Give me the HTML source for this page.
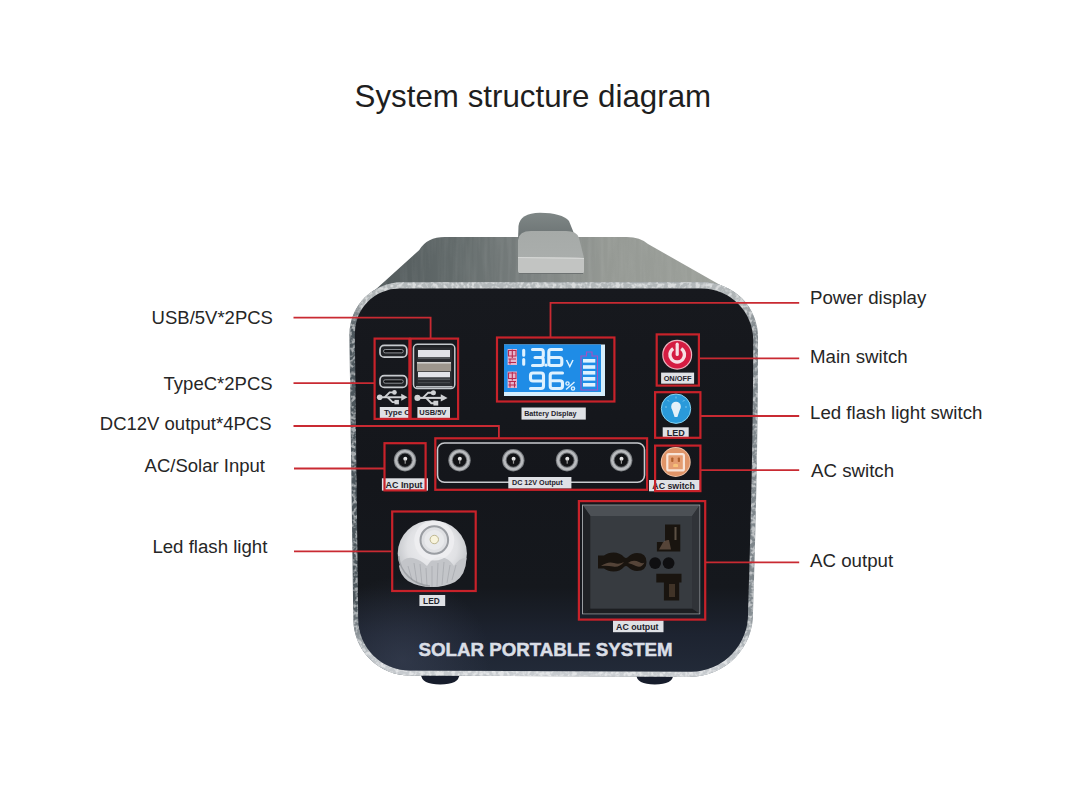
<!DOCTYPE html>
<html><head><meta charset="utf-8">
<style>
html,body{margin:0;padding:0;background:#fff;width:1080px;height:810px;overflow:hidden}
svg{display:block}
.lbl{font-family:"Liberation Sans",sans-serif;font-size:18.5px;fill:#262626}
.tag{font-family:"Liberation Sans",sans-serif;font-weight:bold;fill:#1f232b}
</style></head><body>
<svg width="1080" height="810" viewBox="0 0 1080 810">
<defs>
  <linearGradient id="topg" x1="0" y1="0" x2="1" y2="0">
    <stop offset="0" stop-color="#4f5759"/>
    <stop offset="0.25" stop-color="#636b6b"/>
    <stop offset="0.45" stop-color="#7b8180"/>
    <stop offset="0.65" stop-color="#959994"/>
    <stop offset="1" stop-color="#9da19b"/>
  </linearGradient>
  <linearGradient id="face" x1="0" y1="0" x2="0" y2="1">
    <stop offset="0" stop-color="#17191e"/>
    <stop offset="0.5" stop-color="#14161b"/>
    <stop offset="0.78" stop-color="#15181d"/>
    <stop offset="0.9" stop-color="#1d2330"/>
    <stop offset="1" stop-color="#222a38"/>
  </linearGradient>
  <radialGradient id="faceglow" cx="0.12" cy="0.97" r="0.22">
    <stop offset="0" stop-color="#3c4458" stop-opacity="0.55"/>
    <stop offset="1" stop-color="#3c4458" stop-opacity="0"/>
  </radialGradient>
  <linearGradient id="rimg" x1="0" y1="0" x2="1" y2="0">
    <stop offset="0" stop-color="#4c565c"/>
    <stop offset="0.5" stop-color="#6a7278"/>
    <stop offset="1" stop-color="#7f878c"/>
  </linearGradient>
  <linearGradient id="rimv" x1="0" y1="0" x2="0" y2="1">
    <stop offset="0" stop-color="#b4b9bb" stop-opacity="1"/>
    <stop offset="0.045" stop-color="#aeb3b5" stop-opacity="1"/>
    <stop offset="0.12" stop-color="#aeb3b5" stop-opacity="0"/>
    <stop offset="0.82" stop-color="#c0c5c9" stop-opacity="0"/>
    <stop offset="0.95" stop-color="#c0c5c9" stop-opacity="1"/>
    <stop offset="1" stop-color="#c8ccd0" stop-opacity="1"/>
  </linearGradient>
  <radialGradient id="ledg" cx="0.5" cy="0.4" r="0.6">
    <stop offset="0" stop-color="#f2f2f4"/>
    <stop offset="0.6" stop-color="#e0e1e4"/>
    <stop offset="1" stop-color="#b9bcc0"/>
  </radialGradient>
  <linearGradient id="handf" x1="0" y1="0" x2="0" y2="1">
    <stop offset="0" stop-color="#a6aaa8"/>
    <stop offset="1" stop-color="#acb0ae"/>
  </linearGradient>
  <linearGradient id="handt" x1="0" y1="0" x2="0" y2="1">
    <stop offset="0" stop-color="#7f8786"/>
    <stop offset="1" stop-color="#6a7172"/>
  </linearGradient>
  <filter id="brush" x="0" y="0" width="100%" height="100%">
    <feTurbulence type="fractalNoise" baseFrequency="0.25 0.02" numOctaves="2" seed="3" result="n"/>
    <feColorMatrix in="n" type="matrix" values="0 0 0 0 1  0 0 0 0 1  0 0 0 0 1  0 0 0 -1.6 1.05" result="a"/>
    <feComposite in="a" in2="SourceGraphic" operator="in"/>
  </filter>
  <filter id="speck" x="0" y="0" width="100%" height="100%">
    <feTurbulence type="fractalNoise" baseFrequency="0.25" numOctaves="2" seed="7" result="n"/>
    <feColorMatrix in="n" type="matrix" values="0 0 0 0 1  0 0 0 0 1  0 0 0 0 1  0 0 0 -4 2.3" result="a"/>
    <feComposite in="a" in2="SourceGraphic" operator="in"/>
  </filter>
</defs>
<rect width="1080" height="810" fill="#fff"/>
<text x="354.6" y="107.4" font-family="Liberation Sans" font-size="31.3" fill="#1e1e1e">System structure diagram</text>

<g id="device">
  <path d="M420.8,668 L459.7,668 L459.7,674 Q459,684.5 440.2,684.5 Q421.5,684.5 420.8,674 Z" fill="#171d2c"/>
  <path d="M636,668 L673.6,668 L673.6,674 Q673,684.5 654.8,684.5 Q636.6,684.5 636,674 Z" fill="#171d2c"/>
  <path d="M364,300 L419.3,250 Q427,237 445,237 L627,237 Q640,237 648,244 L736,294 L736,300 Z" fill="url(#topg)"/>
  <path d="M364,300 L419.3,250 Q427,237 445,237 L627,237 Q640,237 648,244 L736,294 L736,300 Z" fill="#000" filter="url(#brush)" opacity="0.08"/>
  <path d="M518,240 L518.5,226 Q520,213 540,212.8 Q562,213 569,221 L575,236 L575,240 Z" fill="url(#handt)"/>
  <path d="M518,240 Q519,231 531,231 L566,231 Q577,231 579,238 L584,258 L584,271 Q584,274 580,274 L522,274 Q518,274 518,270 Z" fill="url(#handf)"/>
  <path d="M518,257 Q540,257 550,257 Q574,257 584,258 L584,271 Q584,274 580,274 L522,274 Q518,274 518,270 Z" fill="#c2c4c2"/>
  <path d="M518,257.5 L584,258.5" stroke="#d6d8d6" stroke-width="1.2"/>
  <path d="M519,273.5 L583,273.5" stroke="#6d7272" stroke-width="1"/>
  <path d="M401.8,282.2 L703,282.2 A55,55 0 0 1 758,337.2 Q758.2,450 753,612 A63,63 0 0 1 690,676.7 L409.7,675.5 A56.4,56.4 0 0 1 353.3,619.1 L349.4,334.6 A52.4,52.4 0 0 1 401.8,282.2 Z" fill="url(#rimg)"/>
  <path d="M401.8,282.2 L703,282.2 A55,55 0 0 1 758,337.2 Q758.2,450 753,612 A63,63 0 0 1 690,676.7 L409.7,675.5 A56.4,56.4 0 0 1 353.3,619.1 L349.4,334.6 A52.4,52.4 0 0 1 401.8,282.2 Z" fill="url(#rimv)"/>
  <path d="M401.8,282.2 L703,282.2 A55,55 0 0 1 758,337.2 Q758.2,450 753,612 A63,63 0 0 1 690,676.7 L409.7,675.5 A56.4,56.4 0 0 1 353.3,619.1 L349.4,334.6 A52.4,52.4 0 0 1 401.8,282.2 Z" fill="#000" filter="url(#speck)" opacity="0.5"/>
  <path d="M399.3,288.6 L701.6,288.6 A51.6,51.6 0 0 1 753.2,340.2 Q753.2,450 748,612 A57.5,57.5 0 0 1 691,671.7 L409.7,670.5 A51.5,51.5 0 0 1 358.2,619.1 L354.8,333.1 A44.5,44.5 0 0 1 399.3,288.6 Z" fill="url(#face)"/>
  <path d="M399.3,288.6 L701.6,288.6 A51.6,51.6 0 0 1 753.2,340.2 Q753.2,450 748,612 A57.5,57.5 0 0 1 691,671.7 L409.7,670.5 A51.5,51.5 0 0 1 358.2,619.1 L354.8,333.1 A44.5,44.5 0 0 1 399.3,288.6 Z" fill="url(#faceglow)"/>
</g>

<g id="typec">
  <rect x="380" y="345.3" width="26.8" height="11.8" rx="4.2" fill="#202226" stroke="#c8cbcf" stroke-width="1.7"/>
  <rect x="383.5" y="349.5" width="19.8" height="3.4" rx="1.7" fill="#101114" stroke="#9a9da2" stroke-width="0.9"/>
  <rect x="380" y="375.6" width="26.8" height="11.8" rx="4.2" fill="#202226" stroke="#c8cbcf" stroke-width="1.7"/>
  <rect x="383.5" y="379.8" width="19.8" height="3.4" rx="1.7" fill="#101114" stroke="#9a9da2" stroke-width="0.9"/>
</g>
<g id="usba">
  <rect x="413.5" y="344.3" width="41.3" height="44.3" rx="4" fill="#1f2125" stroke="#c4c8cc" stroke-width="1.5"/>
  <rect x="416.5" y="347.5" width="35.5" height="38.5" fill="#2a2c30"/>
  <rect x="418" y="350" width="32" height="7" fill="#e2e3e8"/>
  <rect x="418" y="357" width="32" height="2" fill="#55585c"/>
  <rect x="417" y="362.5" width="34" height="8.8" fill="#9d968d"/>
  <rect x="417" y="362.2" width="34" height="1.2" fill="#e6e6e6"/>
  <rect x="418" y="372" width="32" height="5.3" fill="#e2e3e8"/>
  <rect x="418" y="378.5" width="32" height="1.4" fill="#55585c"/>
  <rect x="418" y="382" width="32" height="1.2" fill="#44474b"/>
  <rect x="416" y="386" width="36.5" height="1.6" fill="#b8bcc0"/>
</g>

<g transform="translate(377,389.5) scale(0.97)" fill="#cfd1d4" stroke="#cfd1d4">
  <circle cx="2.8" cy="8" r="2.9" stroke="none"/>
  <line x1="3" y1="8" x2="27" y2="8" stroke-width="2"/>
  <path d="M25,4.5 L31.5,8 L25,11.5 Z" stroke="none"/>
  <polyline points="8,8 13,3 17,3" fill="none" stroke-width="1.9"/>
  <circle cx="18" cy="3" r="2.4" stroke="none"/>
  <polyline points="11,8 16,13 19,13" fill="none" stroke-width="1.9"/>
  <rect x="18" y="10.7" width="4.6" height="4.6" stroke="none"/>
</g>
<g transform="translate(414.5,389.5) scale(1.05)" fill="#cfd1d4" stroke="#cfd1d4">
  <circle cx="2.8" cy="8" r="2.9" stroke="none"/>
  <line x1="3" y1="8" x2="27" y2="8" stroke-width="2"/>
  <path d="M25,4.5 L31.5,8 L25,11.5 Z" stroke="none"/>
  <polyline points="8,8 13,3 17,3" fill="none" stroke-width="1.9"/>
  <circle cx="18" cy="3" r="2.4" stroke="none"/>
  <polyline points="11,8 16,13 19,13" fill="none" stroke-width="1.9"/>
  <rect x="18" y="10.7" width="4.6" height="4.6" stroke="none"/>
</g>
<g id="lcd">
  <rect x="504" y="344.5" width="101" height="51.5" fill="#d6eefc"/>
  <rect x="504" y="344.5" width="97" height="47.5" fill="#1f8ce6"/>
  <g fill="#e6b4cc">
    <rect x="507.6" y="349" width="9.4" height="16"/>
    <rect x="507.6" y="371.5" width="9.4" height="16.5"/>
  </g>
  <g stroke="#b8284e" stroke-width="1.1" fill="none">
    <path d="M508.5,350.5 H516 V356 H508.5 Z M512.3,349.5 V358 M508.5,359 H516 M508.5,362.5 H516 M510,359 V364.5"/>
    <path d="M508.5,373 H516 V378.5 H508.5 Z M512.3,372 V380.5 M508.5,381.5 H516 M508.5,385 H516 M510,381.5 V387.5 M514.5,381.5 V387.5"/>
  </g>
  <g fill="none" stroke="#dff2ff" stroke-width="3.1" stroke-linecap="round" stroke-linejoin="round">
    <path d="M523.7,350.3 V355.2 M523.7,359.5 V364.3"/>
    <path d="M532.5,349.5 H541 Q543.3,349.5 543.3,352 V355.5 Q543.3,357.5 541,357.5 H535 M541,357.5 Q543.3,357.5 543.3,360 V363 Q543.3,365.5 541,365.5 H532.5"/>
    <path d="M561.5,349.5 H551 Q548.8,349.5 548.8,352 V363 Q548.8,365.5 551,365.5 H559.5 Q561.8,365.5 561.8,363 V360 Q561.8,357.5 559.5,357.5 H550"/>
    <path d="M530.5,388.5 H541 Q543.5,388.5 543.5,386 V375.5 Q543.5,373 541,373 H533 Q530.5,373 530.5,375.5 V378.5 Q530.5,381 533,381 H543"/>
    <path d="M562.5,373 H552.5 Q550.2,373 550.2,375.5 V386 Q550.2,388.5 552.5,388.5 H560 Q562.5,388.5 562.5,386 V383 Q562.5,380.8 560,380.8 H551"/>
  </g>
  <circle cx="546" cy="365.2" r="1.6" fill="#dff2ff"/>
  <path d="M566.5,360 L569.8,366.5 L573,360" fill="none" stroke="#dff2ff" stroke-width="1.5"/>
  <g fill="none" stroke="#dff2ff" stroke-width="1.4">
    <circle cx="567.5" cy="383.5" r="1.6"/><circle cx="573" cy="388.5" r="1.6"/>
    <line x1="566" y1="389.5" x2="574.5" y2="382"/>
  </g>
  <path d="M581,356 H586.5 V352 H592 V356 H597.5 V390 H581 Z" fill="none" stroke="#a850c0" stroke-width="1.1"/>
  <g fill="#dff2ff">
    <rect x="583" y="359" width="12.3" height="3.6"/>
    <rect x="583" y="365.2" width="12.3" height="3.6"/>
    <rect x="583" y="371" width="12.3" height="3.6"/>
    <rect x="583" y="377" width="12.3" height="3.6"/>
    <rect x="583" y="383" width="12.3" height="3.6"/>
  </g>
</g>

<g id="buttons">
  <circle cx="677.2" cy="354.7" r="15" fill="#eeb4c0"/>
  <circle cx="677.2" cy="354.7" r="13.8" fill="#d51c42"/>
  <path d="M673.2,348.6 A7.3,7.3 0 1 0 681.2,348.6" fill="none" stroke="#f6dfe5" stroke-width="3.4"/>
  <line x1="677.2" y1="344.2" x2="677.2" y2="354.5" stroke="#f6dfe5" stroke-width="3.2" stroke-linecap="round"/>
  <circle cx="676" cy="408.7" r="14.7" fill="#2a9ada" stroke="#86d4f2" stroke-width="1"/>
  <circle cx="676" cy="406.5" r="4.8" fill="#e4f0f8"/>
  <path d="M671.4,407.5 L674.6,417 L677.4,417 L680.6,407.5 Z" fill="#e4f0f8"/>
  <g stroke="#8fd0f0" stroke-width="0.8">
    <line x1="676" y1="396.5" x2="676" y2="398.5"/><line x1="667.5" y1="400" x2="669" y2="401.5"/>
    <line x1="684.5" y1="400" x2="683" y2="401.5"/><line x1="665" y1="407" x2="667" y2="407"/><line x1="685" y1="407" x2="687" y2="407"/>
  </g>
  <circle cx="675.7" cy="462" r="15" fill="#f0c4a8"/>
  <circle cx="675.7" cy="462" r="14" fill="#df9468"/>
  <rect x="667.3" y="454.2" width="16.6" height="16.2" rx="1.5" fill="#e49c70" stroke="#f7e4d8" stroke-width="2.2"/>
  <g fill="#b0602e"><rect x="671.2" y="457.5" width="2.2" height="4.5" rx="0.8"/><rect x="677.8" y="457.5" width="2.2" height="4.5" rx="0.8"/></g>
  <path d="M673.2,464.5 Q675.6,462.8 678,464.5 L678,467 L673.2,467 Z" fill="#f7c27a"/>
</g>
</g>

<rect x="437.5" y="443" width="207" height="39.3" rx="7" fill="none" stroke="#c8cace" stroke-width="1.6"/>
<circle cx="405" cy="460.2" r="11.2" fill="#7d8084"/>
<circle cx="405" cy="460.2" r="10.2" fill="#b9bbbe"/>
<circle cx="405" cy="460.2" r="7.6" fill="#6a6d71"/>
<circle cx="405" cy="460.2" r="6.6" fill="#121316"/>
<circle cx="405.3" cy="458.7" r="2" fill="#e6e6e6"/>
<rect x="404.6" y="459.7" width="1.2" height="4" fill="#9a9a9a"/>
<circle cx="459.5" cy="460.2" r="11.2" fill="#7d8084"/>
<circle cx="459.5" cy="460.2" r="10.2" fill="#b9bbbe"/>
<circle cx="459.5" cy="460.2" r="7.6" fill="#6a6d71"/>
<circle cx="459.5" cy="460.2" r="6.6" fill="#121316"/>
<circle cx="459.8" cy="458.7" r="2" fill="#e6e6e6"/>
<rect x="459.1" y="459.7" width="1.2" height="4" fill="#9a9a9a"/>
<circle cx="513.3" cy="460.2" r="11.2" fill="#7d8084"/>
<circle cx="513.3" cy="460.2" r="10.2" fill="#b9bbbe"/>
<circle cx="513.3" cy="460.2" r="7.6" fill="#6a6d71"/>
<circle cx="513.3" cy="460.2" r="6.6" fill="#121316"/>
<circle cx="513.5999999999999" cy="458.7" r="2" fill="#e6e6e6"/>
<rect x="512.9" y="459.7" width="1.2" height="4" fill="#9a9a9a"/>
<circle cx="567" cy="460.2" r="11.2" fill="#7d8084"/>
<circle cx="567" cy="460.2" r="10.2" fill="#b9bbbe"/>
<circle cx="567" cy="460.2" r="7.6" fill="#6a6d71"/>
<circle cx="567" cy="460.2" r="6.6" fill="#121316"/>
<circle cx="567.3" cy="458.7" r="2" fill="#e6e6e6"/>
<rect x="566.6" y="459.7" width="1.2" height="4" fill="#9a9a9a"/>
<circle cx="621.2" cy="460.2" r="11.2" fill="#7d8084"/>
<circle cx="621.2" cy="460.2" r="10.2" fill="#b9bbbe"/>
<circle cx="621.2" cy="460.2" r="7.6" fill="#6a6d71"/>
<circle cx="621.2" cy="460.2" r="6.6" fill="#121316"/>
<circle cx="621.5" cy="458.7" r="2" fill="#e6e6e6"/>
<rect x="620.8000000000001" y="459.7" width="1.2" height="4" fill="#9a9a9a"/>
<g id="ledlight">
  <ellipse cx="432.3" cy="553.6" rx="34.6" ry="33.3" fill="url(#ledg)"/>
  <path d="M399,566 Q404,556 413,558 Q421,560 427,566 Q433,556 441,557 Q449,558 454,566 Q460,557 466.5,558 Q466,575 455,582 Q445,587 432,587 Q418,587 408,581 Q400,575 399,566 Z" fill="#c3c5c9"/>
  <g stroke="#a4a7ac" stroke-width="0.8" opacity="0.9">
    <line x1="408" y1="566" x2="412" y2="580"/><line x1="414" y1="563" x2="417" y2="583"/><line x1="420" y1="564" x2="422" y2="585"/><line x1="426" y1="568" x2="427" y2="586"/>
    <line x1="432" y1="566" x2="432" y2="587"/><line x1="438" y1="563" x2="437" y2="586"/><line x1="444" y1="562" x2="442" y2="585"/><line x1="450" y1="565" x2="447" y2="583"/><line x1="456" y1="565" x2="452" y2="580"/>
  </g>
  <path d="M398.6,556 A33.8,32.5 0 0 0 430,586" fill="none" stroke="#8a8d92" stroke-width="1.6" opacity="0.6"/>
  <circle cx="434.3" cy="540.5" r="20" fill="#eeeff1" opacity="0.85"/>
  <circle cx="434.3" cy="540" r="13.8" fill="#dfe0e3" stroke="#9a9da2" stroke-width="2"/>
  <circle cx="434.3" cy="540" r="10" fill="#e9eaec"/>
  <circle cx="434.3" cy="539.5" r="4.2" fill="#f8f4dc" stroke="#bdb690" stroke-width="1"/>
</g>

<g id="outlet">
  <rect x="582.6" y="505.2" width="117" height="108.5" fill="#2e3135" stroke="#9a9ea2" stroke-width="1.2"/>
  <path d="M583,505.5 L699.5,505.5 L692.2,516 L590.4,516 Z" fill="#4c5055"/>
  <path d="M583,613.5 L699.5,613.5 L692.2,608.5 L590.4,608.5 Z" fill="#1c1e21"/>
  <path d="M583,505.5 L590.4,516 L590.4,608.5 L583,613.5 Z" fill="#1f2125"/>
  <path d="M699.5,505.5 L692.2,516 L692.2,608.5 L699.5,613.5 Z" fill="#303338"/>
  <rect x="590.4" y="516" width="101.8" height="92.5" fill="#373b40"/>
  <g fill="#19140f">
    <path d="M598,555.5 L604,555.5 Q608,552.5 613.5,552.5 Q620,552.5 624,557 Q626,559 628,557 Q632,553 637,553 Q646.5,553 646.5,562 Q646.5,571 637,571 Q632,571 628,567 Q626,565 624,567 Q620,571.5 613.5,571.5 Q608,571.5 604,568.5 L598,568.5 Z"/>
    <path d="M665,524.4 H680.3 V551.4 H656.9 V542 H665 Z"/>
    <path d="M656.3,573.7 H681.5 V582.5 H679.2 V600.6 H663.9 V582.5 H656.3 Z"/>
  </g>
  <g fill="#7d6554" opacity="0.6">
    <path d="M601,566 Q608,561 614,563 Q619,565 624,562 Q619,568 613,566.5 Q607,565.5 601,566 Z"/>
    <path d="M628,563 Q633,559 639,562 Q644,565 645,561 Q642,569 636,566 Q632,564 628,563 Z"/>
    <path d="M659,549.5 L663,542.5 Q665,539.5 669,540 L671,549.5 Z"/>
    <rect x="674.5" y="527" width="2" height="13" fill="#8a7868"/>
    <rect x="669" y="584" width="6" height="13" fill="#5a4838"/>
  </g>
  <circle cx="655.1" cy="563.1" r="5.9" fill="#0f0f11"/>
  <circle cx="668.6" cy="563.1" r="5.9" fill="#0f0f11"/>
</g>

<rect x="379.8" y="407" width="29.0" height="11" fill="#dfe1e5"/><text class="tag" x="384" y="415.4" font-size="8" text-anchor="start" letter-spacing="0">Type C</text>
<rect x="417.4" y="407" width="32.60000000000002" height="11" fill="#dfe1e5"/><text class="tag" x="432.8" y="415.2" font-size="7.5" text-anchor="middle" letter-spacing="0">USB/5V</text>
<rect x="521.5" y="407.5" width="64.29999999999995" height="12.100000000000023" fill="#dfe1e5"/><text class="tag" x="550.35" y="416.1" font-size="7.2" text-anchor="middle" letter-spacing="0">Battery Display</text>
<rect x="661.1" y="372.6" width="33.0" height="11.099999999999966" fill="#dfe1e5"/><text class="tag" x="677.6" y="380.8" font-size="7.4" text-anchor="middle" letter-spacing="0">ON/OFF</text>
<rect x="662.7" y="427.3" width="26.0" height="10.0" fill="#dfe1e5"/><text class="tag" x="675.7" y="435.5" font-size="9" text-anchor="middle" letter-spacing="0">LED</text>
<rect x="649" y="480" width="51" height="11.300000000000011" fill="#dfe1e5"/><text class="tag" x="673.6" y="488.8" font-size="8.8" text-anchor="middle" letter-spacing="0">AC switch</text>
<rect x="381.9" y="478.3" width="46.10000000000002" height="12.300000000000011" fill="#dfe1e5"/><text class="tag" x="404.1" y="487.7" font-size="8.9" text-anchor="middle" letter-spacing="0">AC Input</text>
<rect x="508.3" y="477" width="63.099999999999966" height="11.5" fill="#dfe1e5"/><text class="tag" x="537.3" y="485.3" font-size="7.2" text-anchor="middle" letter-spacing="0">DC 12V Output</text>
<rect x="419.4" y="595" width="25.80000000000001" height="11" fill="#dfe1e5"/><text class="tag" x="431.4" y="603.5" font-size="8.3" text-anchor="middle" letter-spacing="0">LED</text>
<rect x="613" y="620.5" width="50.5" height="11.700000000000045" fill="#dfe1e5"/><text class="tag" x="637.3" y="629.5" font-size="8.8" text-anchor="middle" letter-spacing="0">AC output</text>
<text class="lbl" x="151.6" y="324.2">USB/5V*2PCS</text>
<text class="lbl" x="163.6" y="389.6">TypeC*2PCS</text>
<text class="lbl" x="99.8" y="429.8">DC12V output*4PCS</text>
<text class="lbl" x="144.6" y="472">AC/Solar Input</text>
<text class="lbl" style="font-size:18.65px" x="152.4" y="553">Led flash light</text>
<text class="lbl" style="font-size:18.7px" x="810" y="304">Power display</text>
<text class="lbl" style="font-size:18.7px" x="810" y="362.5">Main switch</text>
<text class="lbl" style="font-size:18.7px" x="810" y="418.9">Led flash light switch</text>
<text class="lbl" style="font-size:18.7px" x="811" y="476.7">AC switch</text>
<text class="lbl" style="font-size:18.7px" x="810" y="566.7">AC output</text>
<text x="418.6" y="656" font-family="Liberation Sans" font-weight="bold" font-size="18.7" fill="#dadee6" stroke="#dadee6" stroke-width="0.5">SOLAR PORTABLE SYSTEM</text>

<g fill="none" stroke="#c92a32" stroke-width="1.8">
  <polyline points="293.5,317.6 430.6,317.6 430.6,338.6"/>
  <line x1="293.5" y1="383.1" x2="374.6" y2="383.1"/>
  <polyline points="293.5,426 498.9,426 498.9,438.3"/>
  <line x1="294" y1="468.5" x2="384.5" y2="468.5"/>
  <line x1="294" y1="551.4" x2="392.2" y2="551.4"/>
  <polyline points="550.5,337.5 550.5,302.8 799.2,302.8"/>
  <line x1="698.9" y1="358.3" x2="799.2" y2="358.3"/>
  <line x1="700.4" y1="416" x2="799.2" y2="416"/>
  <line x1="700.4" y1="470.1" x2="799.2" y2="470.1"/>
  <line x1="705.2" y1="562.4" x2="799.2" y2="562.4"/>
</g>
<g fill="none" stroke="#c8222a" stroke-width="2.2">
  <rect x="374.6" y="338.6" width="34.8" height="80.3"/>
  <rect x="410.6" y="338.6" width="47.5" height="80.3"/>
  <rect x="497" y="337.5" width="117.4" height="64"/>
  <rect x="656.7" y="334.4" width="42.2" height="51.2"/>
  <rect x="655.1" y="392.2" width="45.3" height="45.6"/>
  <rect x="655.1" y="445.6" width="45.3" height="45.5"/>
  <rect x="384.5" y="443.2" width="41.1" height="47.2"/>
  <rect x="435.3" y="438.3" width="211.8" height="51.5"/>
  <rect x="392.2" y="511.5" width="83.5" height="79.5"/>
  <rect x="578.9" y="501.1" width="126.3" height="118.5"/>
</g>
</svg>
</body></html>
